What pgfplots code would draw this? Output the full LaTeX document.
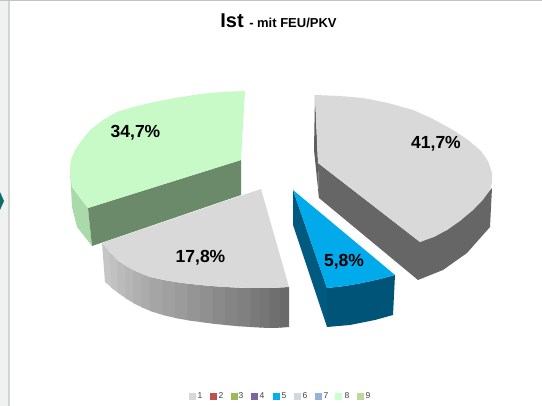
\documentclass[border=0pt]{standalone}
\usepackage{pgfplots}
\pgfplotsset{compat=1.18}
\usepackage{fontspec}
\setmainfont{Liberation Sans}
\newcommand{\fs}[1]{\fontsize{#1}{#1}\selectfont\bfseries}
\pgfplotsset{poly/.style={draw=none,fill=#1,forget plot,mark=none}}
\newcommand{\grayc}[2]{\definecolor{#1}{RGB}{#2,#2,#2}}
\definecolor{side}{RGB}{240,242,242}
\grayc{gl}{212}\grayc{gt}{195}
\definecolor{teal1}{RGB}{15,110,105}
\definecolor{gr1}{RGB}{170,218,170}
\definecolor{gr2}{RGB}{106,138,106}
\definecolor{gr3}{RGB}{200,250,200}
\grayc{sa}{198}\grayc{sb}{193}\grayc{sc}{187}\grayc{sd}{182}\grayc{se}{176}\grayc{sf}{171}\grayc{sg}{165}\grayc{sh}{160}\grayc{si}{155}\grayc{sj}{149}\grayc{sk}{144}\grayc{sl}{138}\grayc{sm}{133}\grayc{sn}{128}\grayc{so}{122}\grayc{sp}{117}\grayc{sq}{111}\grayc{sr}{106}
\grayc{top}{217}\grayc{d1}{95}\grayc{d2}{102}
\definecolor{b1}{RGB}{0,90,128}
\definecolor{b2}{RGB}{0,84,120}
\definecolor{b3}{RGB}{0,170,235}
\definecolor{L2}{RGB}{192,80,77}
\definecolor{L3}{RGB}{155,187,89}
\definecolor{L4}{RGB}{128,100,162}
\definecolor{L5}{RGB}{0,176,240}
\definecolor{L6}{RGB}{208,216,224}
\definecolor{L7}{RGB}{149,179,215}
\definecolor{L8}{RGB}{204,255,204}
\definecolor{L9}{RGB}{195,214,155}
\begin{document}
\begin{tikzpicture}
\begin{axis}[scale only axis,width=542pt,height=406pt,xmin=0,xmax=542,ymin=0,ymax=406,y dir=reverse,axis lines=none,clip=true]
% frame
\addplot[poly=white] coordinates {(0,0)(542,0)(542,406)(0,406)} --cycle;
\addplot[poly=side] coordinates {(0,0)(8,0)(8,406)(0,406)} --cycle;
\addplot[poly=gl] coordinates {(8,0)(9.5,0)(9.5,406)(8,406)} --cycle;
\addplot[poly=gt] coordinates {(0,0)(542,0)(542,1.5)(0,1.5)} --cycle;
\addplot[poly=teal1] coordinates {(0,192)(4,201)(0,210)} --cycle;
% slice 34.7 green
\addplot[poly=gr1] coordinates {(70,168)(72,187)(88,208)(92,246)(77,227)(72,207)} --cycle;
\addplot[poly=gr2] coordinates {(88,208)(241,160)(241,195)(92,246)} --cycle;
\addplot[poly=gr3] coordinates {(245,91)(222,92)(200,94)(175,98)(150,103)(133,107)(117,112)(103,120)(90,130)(82,140)(75,150)(71,160)(70,168)(71,178)(72,187)(80,198)(88,208)(241,160)} --cycle;
% slice 17.8 grey side strips
\addplot[poly=sa] coordinates {(102,243)(110,252)(112,288)(105,282)} --cycle;
\addplot[poly=sb] coordinates {(109.5,252)(117.5,260)(118.5,293)(111.5,288)} --cycle;
\addplot[poly=sc] coordinates {(117,260)(125.5,265.5)(126,298.3)(118,293)} --cycle;
\addplot[poly=sd] coordinates {(125,265.5)(133.5,270)(133.5,303)(125.5,298.3)} --cycle;
\addplot[poly=se] coordinates {(133,270)(142,273.8)(142,307.3)(133,303)} --cycle;
\addplot[poly=sf] coordinates {(141.5,273.8)(150.5,277)(150.5,311)(141.5,307.3)} --cycle;
\addplot[poly=sg] coordinates {(150,277)(163,279.8)(163,315)(150,311)} --cycle;
\addplot[poly=sh] coordinates {(162.5,279.8)(175.5,282)(175.5,318)(162.5,315)} --cycle;
\addplot[poly=si] coordinates {(175,282)(188,283.7)(188,320.3)(175,318)} --cycle;
\addplot[poly=sj] coordinates {(187.5,283.7)(200.5,285)(200.5,322)(187.5,320.3)} --cycle;
\addplot[poly=sk] coordinates {(200,285)(213,286.2)(213,323.7)(200,322)} --cycle;
\addplot[poly=sl] coordinates {(212.5,286.2)(225.5,287)(225.5,325)(212.5,323.7)} --cycle;
\addplot[poly=sm] coordinates {(225,287)(238,287.7)(238,326.2)(225,325)} --cycle;
\addplot[poly=sn] coordinates {(237.5,287.7)(250.5,288)(250.5,327)(237.5,326.2)} --cycle;
\addplot[poly=so] coordinates {(250,288)(260.5,288.2)(260.5,327.6)(250,327)} --cycle;
\addplot[poly=sp] coordinates {(260,288.2)(270.5,288)(270.5,328)(260,327.6)} --cycle;
\addplot[poly=sq] coordinates {(270,288)(280.5,287.6)(280.5,327.7)(270,328)} --cycle;
\addplot[poly=sr] coordinates {(280,287.6)(289,287)(289,327)(280,327.7)} --cycle;
\addplot[poly=top] coordinates {(261,189)(289,287)(270,288)(250,288)(225,287)(200,285)(175,282)(150,277)(133,270)(117,260)(102,243)} --cycle;
% slice 5.8 blue
\addplot[poly=b1] coordinates {(293,190)(327,288)(327,327)(293,225)} --cycle;
\addplot[poly=b2] coordinates {(327,288)(345,286)(362,283)(380,279)(395,275)(393,315)(375,320)(350,325)(327,327)} --cycle;
\addplot[poly=b3] coordinates {(293,190)(395,275)(380,279)(362,283)(345,286)(327,288)} --cycle;
% slice 41.7 grey
\addplot[poly=d1] coordinates {(315,95)(318,163)(319,198)(314,150)} --cycle;
\addplot[poly=d2] coordinates {(318,163)(420,242)(447,230)(473,210)(492,188)(490,227)(467,253)(443,270)(418,280)(319,198)} --cycle;
\addplot[poly=top] coordinates {(315,95)(340,96)(363,98)(388,103)(413,110)(433,119)(453,130)(468,140)(480,150)(488,161)(492,173)(492,183)(490,190)(482,201)(473,210)(460,221)(447,230)(434,237)(420,242)(318,163)} --cycle;
% legend
\addplot[only marks,mark=square*,mark size=2.9pt,color=top,forget plot] coordinates {(192,396)};
\addplot[only marks,mark=square*,mark size=2.9pt,color=L2,forget plot] coordinates {(213,396)};
\addplot[only marks,mark=square*,mark size=2.9pt,color=L3,forget plot] coordinates {(234,396)};
\addplot[only marks,mark=square*,mark size=2.9pt,color=L4,forget plot] coordinates {(254,396)};
\addplot[only marks,mark=square*,mark size=2.9pt,color=L5,forget plot] coordinates {(276,396)};
\addplot[only marks,mark=square*,mark size=2.9pt,color=L6,forget plot] coordinates {(297,396)};
\addplot[only marks,mark=square*,mark size=2.9pt,color=L7,forget plot] coordinates {(318,396)};
\addplot[only marks,mark=square*,mark size=2.9pt,color=L8,forget plot] coordinates {(338,396)};
\addplot[only marks,mark=square*,mark size=2.9pt,color=L9,forget plot] coordinates {(360,396)};
\node[font=\fontsize{8.5}{8.5}\selectfont,text=black!75] at (axis cs:200,396) {1};
\node[font=\fontsize{8.5}{8.5}\selectfont,text=black!75] at (axis cs:221,396) {2};
\node[font=\fontsize{8.5}{8.5}\selectfont,text=black!75] at (axis cs:241,396) {3};
\node[font=\fontsize{8.5}{8.5}\selectfont,text=black!75] at (axis cs:262,396) {4};
\node[font=\fontsize{8.5}{8.5}\selectfont,text=black!75] at (axis cs:284,396) {5};
\node[font=\fontsize{8.5}{8.5}\selectfont,text=black!75] at (axis cs:305,396) {6};
\node[font=\fontsize{8.5}{8.5}\selectfont,text=black!75] at (axis cs:326,396) {7};
\node[font=\fontsize{8.5}{8.5}\selectfont,text=black!75] at (axis cs:347,396) {8};
\node[font=\fontsize{8.5}{8.5}\selectfont,text=black!75] at (axis cs:368,396) {9};
% labels
\node[font=\fs{17.5}] at (axis cs:135.5,132.5) {34,7\%};
\node[font=\fs{17.5}] at (axis cs:200.5,258) {17,8\%};
\node[font=\fs{17.5}] at (axis cs:436,143.5) {41,7\%};
\node[font=\fs{17.5}] at (axis cs:344,262) {5,8\%};
\node[anchor=base,inner sep=0pt] at (axis cs:278.5,28) {\fs{20}Ist \fs{13}- mit FEU/PKV};
\end{axis}
\end{tikzpicture}
\end{document}
